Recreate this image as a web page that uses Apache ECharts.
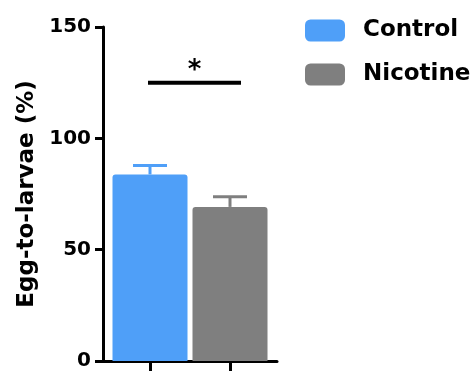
<!DOCTYPE html>
<html>
<head>
<meta charset="utf-8">
<script src="https://cdn.jsdelivr.net/npm/echarts@6/dist/echarts.min.js"></script>
<style>
  html, body { margin: 0; padding: 0; background: #ffffff; }
  #chart { width: 470px; height: 371px; }
</style>
</head>
<body>
<div id="chart"></div>
<script>
// ---- data ----
const categories = ['Control', 'Nicotine'];
const means = [83.8, 69.2];
const errors = [4.0, 4.6];
const sigLevel = 125;
const sigLabel = '*';
const yMin = 0, yMax = 150, yInterval = 50;
const yTitle = 'Egg-to-larvae (%)';

// ---- style ----
const colors = ['#4f9ff8', '#7f7f7f'];
const FONT = 'DejaVu Sans';

const chart = echarts.init(document.getElementById('chart'));

const barSeries = categories.map((name, i) => ({
  name: name,
  type: 'bar',
  xAxisIndex: 1,
  yAxisIndex: 1,
  stack: 'bars',
  barWidth: 75,
  itemStyle: { color: colors[i], borderRadius: [3, 3, 0, 0] },
  data: categories.map((c, j) => (j === i ? means[i] : '-')),
  z: 2
}));

const errorSeries = {
  type: 'custom',
  xAxisIndex: 1,
  yAxisIndex: 1,
  z: 1,
  data: categories.map((c, i) => [i, means[i], errors[i]]),
  renderItem: function (params, api) {
    const i = api.value(0);
    const m = api.value(1);
    const e = api.value(2);
    const p0 = api.coord([i, m]);
    const p1 = api.coord([i, m + e]);
    const col = colors[i];
    const hw = 17;
    return {
      type: 'group',
      children: [
        { type: 'line', shape: { x1: p0[0], y1: p0[1], x2: p1[0], y2: p1[1] }, style: { stroke: col, lineWidth: 3 } },
        { type: 'line', shape: { x1: p1[0] - hw, y1: p1[1], x2: p1[0] + hw, y2: p1[1] }, style: { stroke: col, lineWidth: 3 } }
      ]
    };
  }
};

const sigSeries = {
  type: 'custom',
  xAxisIndex: 1,
  yAxisIndex: 1,
  z: 3,
  data: [[0, 1, sigLevel]],
  renderItem: function (params, api) {
    const a = api.coord([api.value(0), api.value(2)]);
    const b = api.coord([api.value(1), api.value(2)]);
    const x1 = a[0] - 2, x2 = b[0] + 11;
    return {
      type: 'group',
      children: [
        { type: 'line', shape: { x1: x1, y1: a[1], x2: x2, y2: a[1] }, style: { stroke: '#000', lineWidth: 4 } },
        { type: 'text', style: { text: sigLabel, x: (x1 + x2) / 2, y: a[1] + 2, align: 'center', verticalAlign: 'bottom',
            font: 'bold 26px "' + FONT + '"', fill: '#000' } }
      ]
    };
  }
};

chart.setOption({
  animation: false,
  backgroundColor: '#ffffff',
  legend: {
    data: categories,
    orient: 'vertical',
    left: 300,
    top: 14,
    itemWidth: 40,
    itemHeight: 22,
    itemGap: 21,
    icon: 'roundRect',
    textStyle: { fontFamily: FONT, fontWeight: 'bold', fontSize: 23, color: '#000', padding: [0, 0, 0, 13] }
  },
  grid: [
    { left: 103, right: 193, top: 27, bottom: 10 },
    { left: 110, right: 200, top: 27, bottom: 10 }
  ],
  xAxis: [
    {
      gridIndex: 0, type: 'category', data: ['', ''],
      axisLine: { show: true, lineStyle: { color: '#000', width: 3 } },
      axisTick: { show: false }, axisLabel: { show: false }, splitLine: { show: false }
    },
    {
      gridIndex: 1, type: 'category', data: categories,
      axisLine: { show: false },
      axisTick: { show: true, alignWithLabel: true, length: 12, lineStyle: { color: '#000', width: 3 } },
      axisLabel: { show: false }, splitLine: { show: false }
    }
  ],
  yAxis: [
    {
      gridIndex: 0, type: 'value', min: yMin, max: yMax, interval: yInterval,
      name: yTitle, nameLocation: 'middle', nameGap: 64,
      nameTextStyle: { fontFamily: FONT, fontWeight: 'bold', fontSize: 23, color: '#000' },
      axisLine: { show: true, lineStyle: { color: '#000', width: 3 } },
      axisTick: { show: true, length: 8, lineStyle: { color: '#000', width: 3 } },
      axisLabel: { fontFamily: FONT, fontWeight: 'bold', fontSize: 20, color: '#000', margin: 12 },
      splitLine: { show: false }
    },
    {
      gridIndex: 1, type: 'value', min: yMin, max: yMax, interval: yInterval, show: false
    }
  ],
  series: barSeries.concat([errorSeries, sigSeries])
});
</script>
</body>
</html>
